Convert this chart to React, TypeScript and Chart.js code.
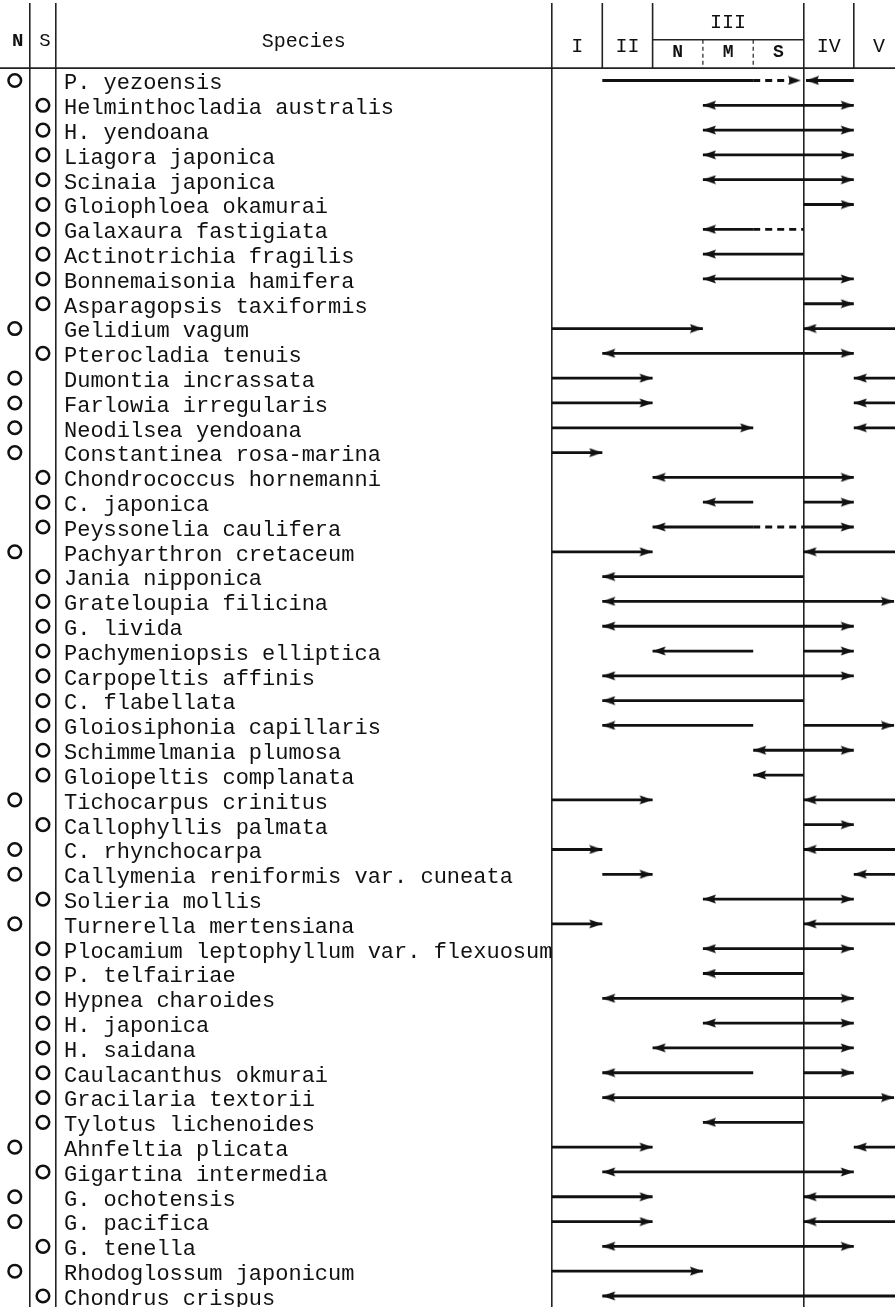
import React, { useEffect, useRef } from 'react';
import { Chart, registerables } from 'chart.js';

Chart.register(...registerables);

// ---------- data ----------
const SPECIES: string[] = [
  'P. yezoensis',
  'Helminthocladia australis',
  'H. yendoana',
  'Liagora japonica',
  'Scinaia japonica',
  'Gloiophloea okamurai',
  'Galaxaura fastigiata',
  'Actinotrichia fragilis',
  'Bonnemaisonia hamifera',
  'Asparagopsis taxiformis',
  'Gelidium vagum',
  'Pterocladia tenuis',
  'Dumontia incrassata',
  'Farlowia irregularis',
  'Neodilsea yendoana',
  'Constantinea rosa-marina',
  'Chondrococcus hornemanni',
  'C. japonica',
  'Peyssonelia caulifera',
  'Pachyarthron cretaceum',
  'Jania nipponica',
  'Grateloupia filicina',
  'G. livida',
  'Pachymeniopsis elliptica',
  'Carpopeltis affinis',
  'C. flabellata',
  'Gloiosiphonia capillaris',
  'Schimmelmania plumosa',
  'Gloiopeltis complanata',
  'Tichocarpus crinitus',
  'Callophyllis palmata',
  'C. rhynchocarpa',
  'Callymenia reniformis var. cuneata',
  'Solieria mollis',
  'Turnerella mertensiana',
  'Plocamium leptophyllum var. flexuosum',
  'P. telfairiae',
  'Hypnea charoides',
  'H. japonica',
  'H. saidana',
  'Caulacanthus okmurai',
  'Gracilaria textorii',
  'Tylotus lichenoides',
  'Ahnfeltia plicata',
  'Gigartina intermedia',
  'G. ochotensis',
  'G. pacifica',
  'G. tenella',
  'Rhodoglossum japonicum',
  'Chondrus crispus',
];

// which column (N = northern, S = southern) carries the circle
const ORIGIN: string[] = [
  'N', 'S', 'S', 'S', 'S', 'S', 'S', 'S', 'S', 'S',
  'N', 'S', 'N', 'N', 'N', 'N', 'S', 'S', 'S', 'N',
  'S', 'S', 'S', 'S', 'S', 'S', 'S', 'S', 'S', 'N',
  'S', 'N', 'N', 'S', 'N', 'S', 'S', 'S', 'S', 'S',
  'S', 'S', 'S', 'N', 'S', 'N', 'N', 'S', 'N', 'S',
];

// zone axis: I = 0–1, II = 1–2, III(N) = 2–3, III(M) = 3–4, III(S) = 4–5, IV = 5–6, V = 6–7
// each segment: [from, to, heads ('<' left, '>' right), dashed (1) or solid (0)]
type Seg = [number, number, string, number];
const RANGES: Seg[][] = [
  [[1, 4, '', 0], [4, 4.95, '>', 1], [5.05, 6, '<', 0]],
  [[3, 6, '<>', 0]],
  [[3, 6, '<>', 0]],
  [[3, 6, '<>', 0]],
  [[3, 6, '<>', 0]],
  [[5, 6, '>', 0]],
  [[3, 4, '<', 0], [4, 5, '', 1]],
  [[3, 5, '<', 0]],
  [[3, 6, '<>', 0]],
  [[5, 6, '>', 0]],
  [[0, 3, '>', 0], [5, 7, '<', 0]],
  [[1, 6, '<>', 0]],
  [[0, 2, '>', 0], [6, 7, '<', 0]],
  [[0, 2, '>', 0], [6, 7, '<', 0]],
  [[0, 4, '>', 0], [6, 7, '<', 0]],
  [[0, 1, '>', 0]],
  [[2, 6, '<>', 0]],
  [[3, 4, '<', 0], [5, 6, '>', 0]],
  [[2, 4, '<', 0], [4, 5, '', 1], [5, 6, '>', 0]],
  [[0, 2, '>', 0], [5, 7, '<', 0]],
  [[1, 5, '<', 0]],
  [[1, 6.8, '<>', 0]],
  [[1, 6, '<>', 0]],
  [[2, 4, '<', 0], [5, 6, '>', 0]],
  [[1, 6, '<>', 0]],
  [[1, 5, '<', 0]],
  [[1, 4, '<', 0], [5, 6.8, '>', 0]],
  [[4, 6, '<>', 0]],
  [[4, 5, '<', 0]],
  [[0, 2, '>', 0], [5, 7, '<', 0]],
  [[5, 6, '>', 0]],
  [[0, 1, '>', 0], [5, 7, '<', 0]],
  [[1, 2, '>', 0], [6, 7, '<', 0]],
  [[3, 6, '<>', 0]],
  [[0, 1, '>', 0], [5, 7, '<', 0]],
  [[3, 6, '<>', 0]],
  [[3, 5, '<', 0]],
  [[1, 6, '<>', 0]],
  [[3, 6, '<>', 0]],
  [[2, 6, '<>', 0]],
  [[1, 4, '<', 0], [5, 6, '>', 0]],
  [[1, 6.8, '<>', 0]],
  [[3, 5, '<', 0]],
  [[0, 2, '>', 0], [6, 7, '<', 0]],
  [[1, 6, '<>', 0]],
  [[0, 2, '>', 0], [5, 7, '<', 0]],
  [[0, 2, '>', 0], [5, 7, '<', 0]],
  [[1, 6, '<>', 0]],
  [[0, 3, '>', 0]],
  [[1, 7, '<', 0]],
];

const ZONE_LABELS = ['I', 'II', 'III', 'IV', 'V'];
const ZONE_CENTERS = [0.5, 1.5, 3.5, 5.5, 6.5];
const SUB_LABELS = ['N', 'M', 'S'];
const SUB_CENTERS = [2.5, 3.5, 4.5];

// ---------- layout (zone units / row units) ----------
const W = 895;
const H = 1307;
const FONT = "'Liberation Mono', 'DejaVu Sans Mono', monospace";
const X_MIN = -10.974;
const X_MAX = 6.819;
const COL_N = -10.68;
const COL_S = -10.12;
const RULE_NS = -10.39;
const RULE_SP = -9.87;
const FULL_RULES = [RULE_NS, RULE_SP, 0, 5];
const HEADER_RULES = [1, 2, 6];
const Y_MIN = -3.124;
const Y_MAX = 49.444;

function makeHead(): HTMLCanvasElement {
  const c = document.createElement('canvas');
  c.width = 28;
  c.height = 10;
  const g = c.getContext('2d')!;
  g.fillStyle = '#111';
  g.beginPath();
  g.moveTo(14, 5);
  g.lineTo(1, 0.6);
  g.lineTo(3, 5);
  g.lineTo(1, 9.4);
  g.closePath();
  g.fill();
  return c;
}

const zeroPad = (s: any) => {
  s.paddingLeft = 0;
  s.paddingRight = 0;
  s.paddingTop = 0;
  s.paddingBottom = 0;
};

const headerPlugin = {
  id: 'header',
  afterDraw(chart: any) {
    const { ctx, chartArea } = chart;
    const xs = chart.scales.x;
    const ys = chart.scales.y;
    const X = (v: number) => xs.getPixelForValue(v);
    const Y = (v: number) => ys.getPixelForValue(v);
    const line = (x1: number, y1: number, x2: number, y2: number) => {
      ctx.beginPath();
      ctx.moveTo(x1, y1);
      ctx.lineTo(x2, y2);
      ctx.stroke();
    };
    ctx.save();
    ctx.strokeStyle = '#222';
    ctx.lineWidth = 1.6;
    const hy = Y(-0.5);
    line(0, hy, W, hy);
    HEADER_RULES.forEach((u) => line(X(u), chartArea.top, X(u), hy));
    const sy = Y(-1.64);
    line(X(2), sy, X(5), sy);
    ctx.setLineDash([4, 3]);
    ctx.lineWidth = 1.2;
    [3, 4].forEach((u) => line(X(u), sy, X(u), hy));
    ctx.setLineDash([]);

    ctx.fillStyle = '#111';
    ctx.textAlign = 'center';
    ctx.textBaseline = 'middle';
    ctx.font = `bold 19px ${FONT}`;
    ctx.fillText('N', X(COL_N) + 3, Y(-1.6));
    ctx.font = `19px ${FONT}`;
    ctx.fillText('S', X(COL_S) + 2, Y(-1.6));
    ctx.font = `20px ${FONT}`;
    ctx.fillText('Species', X((RULE_SP + 0) / 2), Y(-1.58));
    ZONE_LABELS.forEach((t, i) => {
      const yy = t === 'III' ? Y(-2.32) : Y(-1.36);
      ctx.fillText(t, X(ZONE_CENTERS[i]), yy);
    });
    ctx.font = `bold 18px ${FONT}`;
    SUB_LABELS.forEach((t, i) => ctx.fillText(t, X(SUB_CENTERS[i]), Y(-1.12)));
    ctx.restore();
  },
};

export default function App() {
  const ref = useRef<HTMLCanvasElement | null>(null);
  useEffect(() => {
    if (!ref.current) return;
    const head = makeHead();
    const datasets: any[] = [];
    RANGES.forEach((segs, i) => {
      segs.forEach(([a, b, heads, dash]) => {
        datasets.push({
          data: [
            { x: a, y: i },
            { x: b, y: i },
          ],
          showLine: true,
          borderColor: '#111',
          borderWidth: 2.8,
          borderDash: dash ? [7, 5] : [],
          borderCapStyle: 'butt',
          pointStyle: head,
          pointRotation: [180, 0],
          pointRadius: [heads.includes('<') ? 5 : 0, heads.includes('>') ? 5 : 0],
          pointBackgroundColor: '#111',
          pointBorderWidth: 0,
        });
      });
    });
    datasets.push({
      data: SPECIES.map((_, i) => ({ x: ORIGIN[i] === 'N' ? COL_N : COL_S, y: i })),
      showLine: false,
      pointStyle: 'circle',
      pointRadius: 6.3,
      pointBorderWidth: 2.5,
      pointBorderColor: '#111',
      pointBackgroundColor: '#fff',
    });

    const chart = new Chart(ref.current, {
      type: 'scatter',
      data: { datasets },
      plugins: [headerPlugin],
      options: {
        animation: false,
        responsive: false,
        events: [],
        layout: { autoPadding: false, padding: { top: 3, bottom: 0, left: 0, right: 0 } },
        plugins: { legend: { display: false }, tooltip: { enabled: false } },
        scales: {
          x: {
            type: 'linear',
            min: X_MIN,
            max: X_MAX,
            position: 'bottom',
            afterFit: (s: any) => {
              s.height = 0;
              zeroPad(s);
            },
            afterBuildTicks: (s: any) => {
              s.ticks = FULL_RULES.map((v) => ({ value: v }));
            },
            ticks: { display: false },
            grid: { color: '#222', lineWidth: 1.6, drawTicks: false },
            border: { display: false },
          },
          y: {
            type: 'linear',
            reverse: true,
            min: Y_MIN,
            max: Y_MAX,
            position: 'left',
            afterFit: (s: any) => {
              s.width = 0;
              zeroPad(s);
            },
            afterBuildTicks: (s: any) => {
              s.ticks = SPECIES.map((_, i) => ({ value: i }));
            },
            ticks: {
              mirror: true,
              padding: 64,
              autoSkip: false,
              labelOffset: 3,
              color: '#111',
              font: { family: FONT, size: 22 },
              callback: (v: any) => SPECIES[v as number],
            },
            grid: { display: false, drawTicks: false },
            border: { display: false },
          },
        },
      } as any,
    });
    return () => chart.destroy();
  }, []);

  return (
    <div style={{ position: 'absolute', left: 0, top: 0, width: W, height: H, background: '#fff' }}>
      <canvas ref={ref} width={W} height={H} />
    </div>
  );
}
